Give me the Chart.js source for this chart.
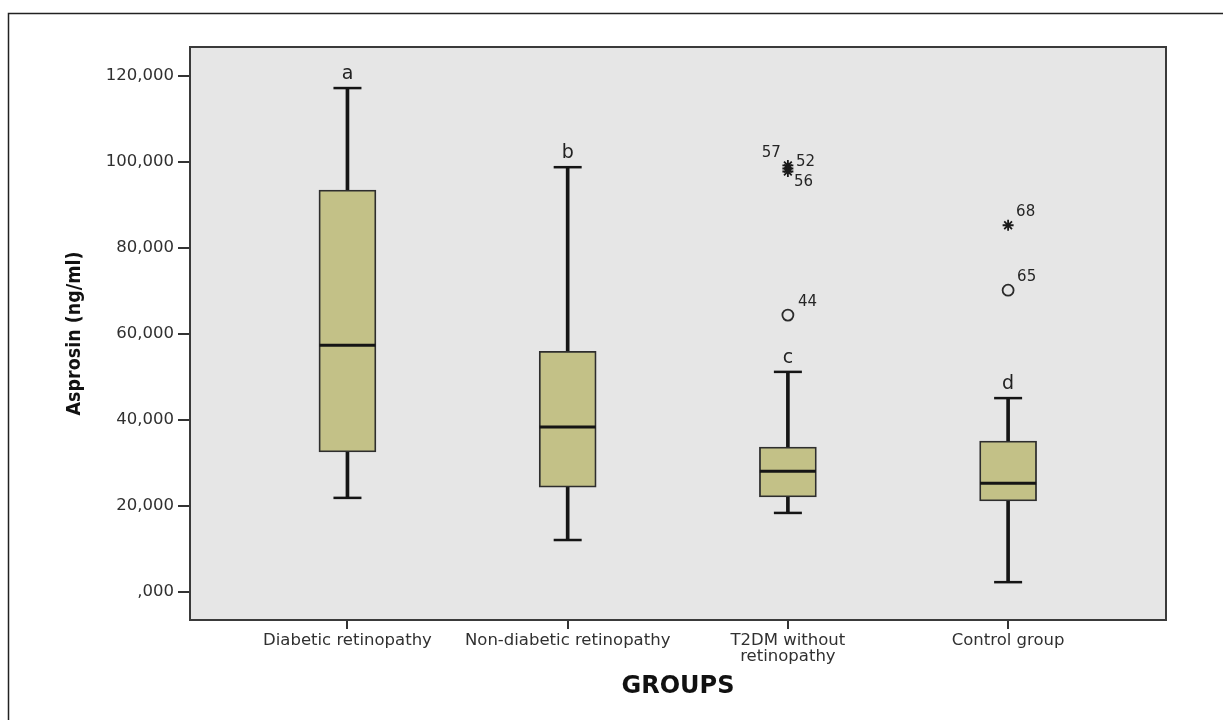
<!DOCTYPE html>
<html>
<head>
<meta charset="utf-8">
<script src="https://cdn.jsdelivr.net/npm/chart.js@4.4.1/dist/chart.umd.min.js"></script>
<style>
  html, body { margin: 0; padding: 0; background: #ffffff; }
  #wrap { position: relative; width: 1223px; height: 720px; }
  canvas { position: absolute; left: 0; top: 0; }
</style>
</head>
<body>
<div id="wrap"><canvas id="c" width="1223" height="720"></canvas></div>
<script>
// ---- data ----
const groupLabels = [
  'Diabetic retinopathy',
  'Non-diabetic retinopathy',
  ['T2DM without', 'retinopathy'],
  'Control group'
];
const groupPositions = [0, 1, 2, 3];
const whiskerLow  = [21900, 12100, 18400, 2300];
const q1          = [32600, 24400, 22100, 21200];
const median      = [57400, 38400, 28100, 25300];
const q3          = [93500, 56000, 33700, 35100];
const whiskerHigh = [117200, 98800, 51200, 45100];
const groupLetters = ['a', 'b', 'c', 'd'];

const outlierGroup = [2, 2, 2, 2, 3, 3];
const outlierValue = [99200, 98500, 97800, 64400, 85300, 70200];
const outlierId    = ['57', '52', '56', '44', '68', '65'];
const outlierKind  = ['extreme', 'extreme', 'extreme', 'mild', 'extreme', 'mild'];

const yTickValues = [0, 20000, 40000, 60000, 80000, 100000, 120000];
const yTickLabels = [',000', '20,000', '40,000', '60,000', '80,000', '100,000', '120,000'];

// ---- styles (not data) ----
const outlierLabelOffset = [
  {dx: -7, dy: -12, align: 'right'},
  {dx: 8, dy: -6, align: 'left'},
  {dx: 6, dy: 11, align: 'left'},
  {dx: 10, dy: -13, align: 'left'},
  {dx: 8, dy: -13, align: 'left'},
  {dx: 9, dy: -13, align: 'left'}
];
const BOX_FILL = '#c3c187';
const INK = '#151515';
const TEXT = '#303030';

const decor = {
  id: 'decor',
  beforeDraw(chart) {
    const {ctx, chartArea: a} = chart;
    ctx.save();
    // outer frame (only top and left edges fall inside the picture)
    ctx.strokeStyle = '#222';
    ctx.lineWidth = 1.5;
    ctx.beginPath();
    ctx.moveTo(8.5, 740);
    ctx.lineTo(8.5, 13.5);
    ctx.lineTo(1240, 13.5);
    ctx.stroke();
    // plot background
    ctx.fillStyle = '#e6e6e6';
    ctx.fillRect(a.left, a.top, a.right - a.left, a.bottom - a.top);
    ctx.restore();
  },
  afterDatasetsDraw(chart) {
    const {ctx, chartArea: a, scales: {x, y}} = chart;
    ctx.save();
    ctx.strokeStyle = '#3a3a3a';
    ctx.lineWidth = 2;
    ctx.strokeRect(a.left, a.top, a.right - a.left, a.bottom - a.top);

    ctx.fillStyle = '#222';
    ctx.font = '19px "DejaVu Sans"';
    ctx.textAlign = 'center';
    ctx.textBaseline = 'alphabetic';
    groupPositions.forEach((g, i) => {
      ctx.fillText(groupLetters[i], x.getPixelForValue(g), y.getPixelForValue(whiskerHigh[i]) - 9);
    });

    ctx.font = '15px "DejaVu Sans"';
    ctx.textBaseline = 'middle';
    ctx.fillStyle = '#262626';
    outlierValue.forEach((v, i) => {
      const o = outlierLabelOffset[i];
      ctx.textAlign = o.align;
      ctx.fillText(outlierId[i], x.getPixelForValue(outlierGroup[i]) + o.dx, y.getPixelForValue(v) + o.dy);
    });
    ctx.restore();
  }
};

const idx = groupPositions;
const mildPts = outlierValue.map((v, i) => ({x: outlierGroup[i], y: v})).filter((p, i) => outlierKind[i] === 'mild');
const extPts = outlierValue.map((v, i) => ({x: outlierGroup[i], y: v})).filter((p, i) => outlierKind[i] === 'extreme');

new Chart(document.getElementById('c'), {
  type: 'bar',
  data: {
    datasets: [
      {
        type: 'bar', label: 'whisker',
        data: idx.map((g, i) => ({x: g, y: [whiskerLow[i], whiskerHigh[i]]})),
        backgroundColor: INK, borderWidth: 0, barThickness: 3, grouped: false, order: 5
      },
      {
        type: 'bar', label: 'box',
        data: idx.map((g, i) => ({x: g, y: [q1[i], q3[i]]})),
        backgroundColor: BOX_FILL, borderColor: '#2e2e2e', borderWidth: 1.8, borderSkipped: false,
        barThickness: 57, grouped: false, order: 4
      },
      {
        type: 'scatter', label: 'median',
        data: idx.map((g, i) => ({x: g, y: median[i]})),
        pointStyle: 'line', pointRadius: 28, borderColor: INK, borderWidth: 3, order: 1
      },
      {
        type: 'scatter', label: 'caps',
        data: idx.map((g, i) => ({x: g, y: whiskerLow[i]})).concat(idx.map((g, i) => ({x: g, y: whiskerHigh[i]}))),
        pointStyle: 'line', pointRadius: 14, borderColor: INK, borderWidth: 2.5, order: 1
      },
      {
        type: 'scatter', label: 'mild outliers',
        data: mildPts,
        pointStyle: 'circle', pointRadius: 5.5, borderColor: '#2a2a2a', backgroundColor: 'rgba(0,0,0,0)', borderWidth: 1.8, order: 1
      },
      {
        type: 'scatter', label: 'extreme outliers',
        data: extPts,
        pointStyle: 'star', pointRadius: 5.5, borderColor: '#1a1a1a', borderWidth: 1.8, order: 1
      }
    ]
  },
  options: {
    responsive: false,
    animation: false,
    events: [],
    layout: { padding: {left: 0, top: 47, right: 57, bottom: 0} },
    plugins: { legend: {display: false}, tooltip: {enabled: false} },
    scales: {
      x: {
        type: 'linear', min: -0.715, max: 3.717, offset: false,
        afterBuildTicks: s => { s.ticks = groupPositions.map(v => ({value: v})); },
        afterFit: s => { s.height = 100; },
        ticks: {
          autoSkip: false, maxRotation: 0, minRotation: 0, padding: 3,
          color: TEXT, font: {family: 'DejaVu Sans', size: 16.5, lineHeight: 1.0},
          callback: (v, i) => groupLabels[i]
        },
        grid: {offset: false, drawOnChartArea: false, drawTicks: true, tickLength: 9, color: '#333', lineWidth: 2},
        border: {display: true, color: '#3a3a3a', width: 2},
        title: {
          display: true, text: 'GROUPS', color: '#111',
          font: {family: 'DejaVu Sans', size: 24, weight: 'bold', lineHeight: 1.2},
          padding: {top: 0, bottom: 19}
        }
      },
      y: {
        type: 'linear', min: -6500, max: 126750,
        afterBuildTicks: s => { s.ticks = yTickValues.map(v => ({value: v})); },
        afterFit: s => { s.width = 190; },
        ticks: {
          padding: 4, color: TEXT, font: {family: 'DejaVu Sans', size: 16.5},
          callback: (v, i) => yTickLabels[i]
        },
        grid: {drawOnChartArea: false, drawTicks: true, tickLength: 12, color: '#333', lineWidth: 2},
        border: {display: true, color: '#3a3a3a', width: 2},
        title: {
          display: true, text: 'Asprosin (ng/ml)', color: '#111',
          font: {family: '"Liberation Sans Narrow", "DejaVu Sans Condensed", "Liberation Sans"', size: 19.5, weight: 'bold', lineHeight: 1.2},
          padding: {top: 63, bottom: 0}
        }
      }
    }
  },
  plugins: [decor]
});
</script>
</body>
</html>
